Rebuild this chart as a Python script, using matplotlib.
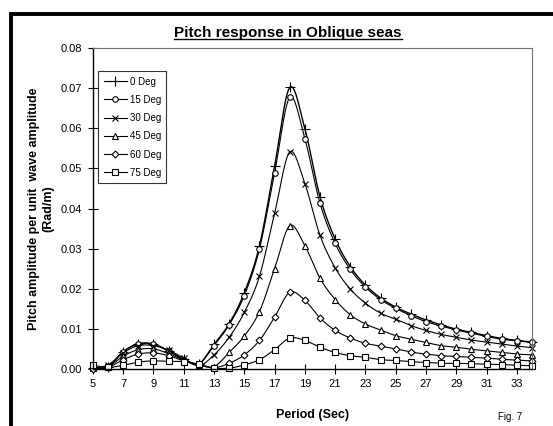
import numpy as np
import matplotlib
matplotlib.use("Agg")
import matplotlib.pyplot as plt
from matplotlib.lines import Line2D
from matplotlib.ticker import FormatStrFormatter

plt.rcParams['font.family'] = ['Liberation Sans', 'DejaVu Sans']

# Data
periods = list(range(5, 35))

deg_0 = [0.0002, 0.0005, 0.0043, 0.0063, 0.0062, 0.0045, 0.0024, 0.0013, 0.0061, 0.0113,
         0.0190, 0.0307, 0.0506, 0.0702, 0.0599, 0.0429, 0.0324, 0.0255, 0.0209, 0.0177,
         0.0154, 0.0137, 0.0122, 0.0110, 0.0099, 0.0091, 0.0083, 0.0076, 0.0071, 0.0067]
deg_15 = [0.0002, 0.0005, 0.0043, 0.0062, 0.0061, 0.0044, 0.0023, 0.0013, 0.0058, 0.0110,
          0.0183, 0.0299, 0.0489, 0.0677, 0.0574, 0.0413, 0.0313, 0.0248, 0.0204, 0.0173,
          0.0151, 0.0133, 0.0118, 0.0107, 0.0097, 0.0089, 0.0081, 0.0074, 0.0070, 0.0066]
deg_30 = [0.0002, 0.0010, 0.0040, 0.0058, 0.0058, 0.0047, 0.0027, 0.0008, 0.0035, 0.0079,
          0.0141, 0.0231, 0.0388, 0.0541, 0.0462, 0.0333, 0.0252, 0.0199, 0.0164, 0.0139,
          0.0124, 0.0108, 0.0096, 0.0086, 0.0079, 0.0072, 0.0067, 0.0062, 0.0057, 0.0053]
deg_45 = [0.0002, 0.0005, 0.0032, 0.0048, 0.0050, 0.0038, 0.0022, 0.0010, 0.0006, 0.0041,
          0.0082, 0.0143, 0.0250, 0.0357, 0.0307, 0.0226, 0.0173, 0.0135, 0.0112, 0.0097,
          0.0083, 0.0074, 0.0066, 0.0058, 0.0054, 0.0049, 0.0045, 0.0041, 0.0037, 0.0035]
deg_60 = [0.0001, 0.0004, 0.0023, 0.0037, 0.0040, 0.0033, 0.0020, 0.0010, 0.0003, 0.0014,
          0.0035, 0.0071, 0.0129, 0.0191, 0.0171, 0.0127, 0.0096, 0.0077, 0.0064, 0.0057,
          0.0050, 0.0042, 0.0037, 0.0033, 0.0031, 0.0029, 0.0027, 0.0024, 0.0022, 0.0020]
deg_75 = [0.0009, 0.0004, 0.0009, 0.0017, 0.0020, 0.0019, 0.0018, 0.0012, 0.0002, 0.0002,
          0.0010, 0.0023, 0.0048, 0.0077, 0.0071, 0.0054, 0.0041, 0.0033, 0.0029, 0.0023,
          0.0021, 0.0018, 0.0016, 0.0014, 0.0014, 0.0013, 0.0012, 0.0011, 0.0009, 0.0008]

labels = ["0 Deg", "15 Deg", "30 Deg", "45 Deg", "60 Deg", "75 Deg"]
series = [deg_0, deg_15, deg_30, deg_45, deg_60, deg_75]
markers = ["+", "o", "x", "^", "D", "s"]
msizes = [7, 4, 5, 4.5, 3.5, 4]


def smooth(x, y, n=16):
    # Catmull-Rom curve through the points, like Excel's smoothed line
    x = np.asarray(x, float)
    y = np.asarray(y, float)
    px = np.concatenate([[2 * x[0] - x[1]], x, [2 * x[-1] - x[-2]]])
    py = np.concatenate([[2 * y[0] - y[1]], y, [2 * y[-1] - y[-2]]])
    t = np.linspace(0, 1, n, endpoint=False)
    xs, ys = [], []
    for i in range(1, len(px) - 2):
        for p, out in ((px, xs), (py, ys)):
            p0, p1, p2, p3 = p[i - 1], p[i], p[i + 1], p[i + 2]
            out.append(0.5 * (2 * p1 + (-p0 + p2) * t
                              + (2 * p0 - 5 * p1 + 4 * p2 - p3) * t ** 2
                              + (-p0 + 3 * p1 - 3 * p2 + p3) * t ** 3))
    xs.append([x[-1]])
    ys.append([y[-1]])
    return np.concatenate(xs), np.concatenate(ys)


fig = plt.figure(figsize=(5.53, 4.26), dpi=100)
ax = fig.add_axes([0.168, 0.134, 0.794, 0.753])

handles = []
for vals, lab, mk, ms in zip(series, labels, markers, msizes):
    sx, sy = smooth(periods, vals)
    lw = 1.0 if lab == "0 Deg" else 0.8
    ax.plot(sx, sy, color="black", lw=lw, clip_on=False)
    ax.plot(periods, vals, linestyle="none", marker=mk, ms=ms, mec="black",
            mfc="white", mew=0.8, clip_on=False)
    handles.append(Line2D([], [], color="black", lw=0.8, marker=mk, ms=ms,
                          mec="black", mfc="white", mew=0.8))

ax.set_xlim(5, 34)
ax.set_ylim(0, 0.08)
ax.set_xticks(range(5, 35, 2))
ax.set_yticks(np.arange(0, 0.081, 0.01))
ax.yaxis.set_major_formatter(FormatStrFormatter("%.2f"))
ax.tick_params(direction="inout", length=7, width=0.8, labelsize=8, pad=4)

for side in ("left", "bottom"):
    ax.spines[side].set_color("black")
    ax.spines[side].set_linewidth(1.0)
for side in ("top", "right"):
    ax.spines[side].set_color("#707070")
    ax.spines[side].set_linewidth(0.8)

title = ax.set_title("Pitch response in Oblique seas", fontsize=11,
                     fontweight="bold", pad=8, x=0.444)
ax.set_xlabel("Period (Sec)", fontsize=9, fontweight="bold", labelpad=14)
ax.set_ylabel("Pitch amplitude per unit  wave amplitude\n(Rad/m)", fontsize=9,
              fontweight="bold", labelpad=5)

# underline the title
fig.canvas.draw()
bb = title.get_window_extent().transformed(fig.transFigure.inverted())
fig.add_artist(Line2D([bb.x0, bb.x1], [bb.y0 + 0.002, bb.y0 + 0.002],
                      color="black", lw=1.0, transform=fig.transFigure))

leg = ax.legend(handles, labels, loc="upper left", bbox_to_anchor=(0.012, 0.928),
                fontsize=7, frameon=True, fancybox=False, handlelength=2.4,
                labelspacing=0.85, handletextpad=0.3, borderpad=0.55,
                borderaxespad=0)
leg.get_frame().set_edgecolor("black")
leg.get_frame().set_linewidth(0.8)

fig.text(0.90, 0.022, "Fig. 7", fontsize=7, ha="left", va="center")

# thick page border on the left and top
fig.add_artist(Line2D([0.02, 0.02, 1.0], [0.0, 0.968, 0.968], color="black",
                      lw=2.8, transform=fig.transFigure, solid_joinstyle="miter"))

fig.savefig("out.png", dpi=100)
